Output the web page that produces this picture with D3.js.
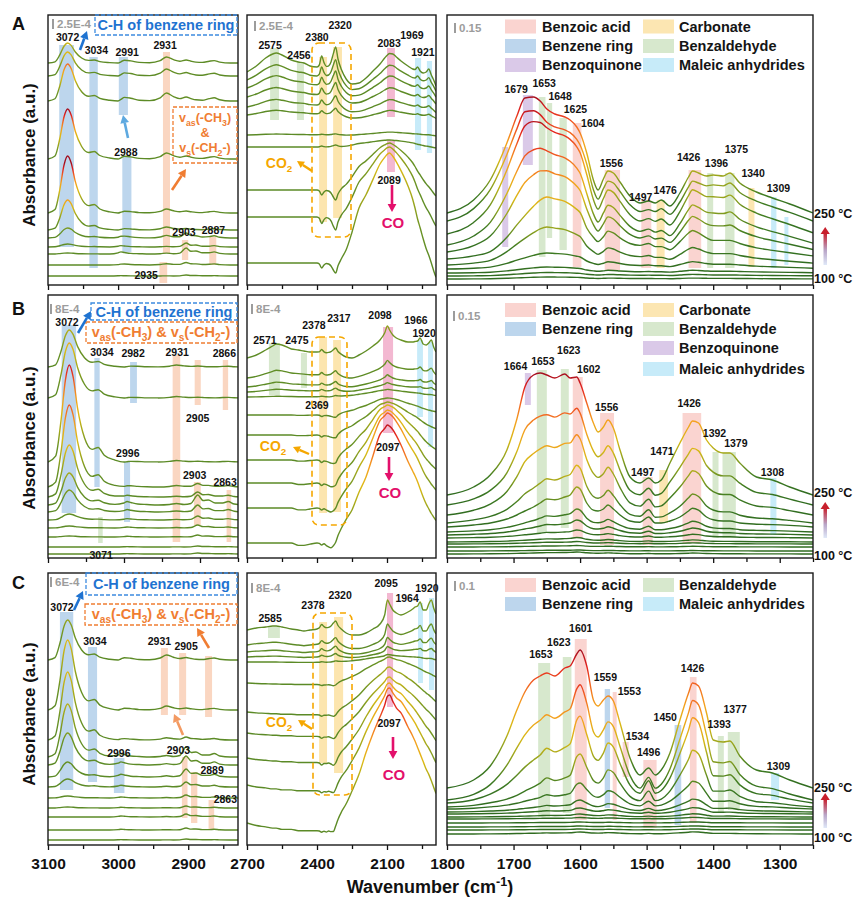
<!DOCTYPE html>
<html>
<head>
<meta charset="utf-8">
<script src="https://cdn.jsdelivr.net/npm/d3@7"></script>
<style>
  body { margin: 0; background: #fff; }
  svg text { font-family: "Liberation Sans", Arial, Helvetica, sans-serif; font-weight: bold; }
</style>
</head>
<body>
<svg id="chart" width="855" height="897"></svg>
<script>
'use strict';

// ---------- data: wavenumber knots (cm-1) for each column ----------
var wnCH = [3100, 3090, 3083, 3077, 3072, 3067, 3061, 3052, 3042, 3034, 3026, 3012, 3000, 2996, 2991, 2982, 2970, 2955, 2940, 2931, 2921, 2912, 2903, 2896, 2889, 2880, 2870, 2863, 2855, 2840, 2829];
var wnGas = [2700, 2660, 2620, 2590, 2575, 2550, 2510, 2480, 2456, 2430, 2400, 2390, 2380, 2370, 2360, 2350, 2340, 2330, 2320, 2310, 2295, 2275, 2250, 2220, 2190, 2160, 2130, 2110, 2098, 2089, 2075, 2060, 2040, 2010, 1990, 1980, 1969, 1958, 1945, 1932, 1921, 1910, 1900, 1890];
var wnFing = [1800, 1760, 1735, 1710, 1695, 1683, 1670, 1660, 1650, 1638, 1623, 1615, 1605, 1600, 1590, 1580, 1573, 1565, 1558, 1550, 1540, 1525, 1510, 1497, 1487, 1478, 1465, 1450, 1437, 1431, 1422, 1410, 1400, 1385, 1375, 1360, 1335, 1311, 1285, 1250];

// tick labels
var ticksCH = [3100, 3000, 2900], minorCH = [3050, 2950, 2850];
var ticksGas = [2700, 2400, 2100], minorGas = [2550, 2250, 1950];
var ticksFing = [1800, 1700, 1600, 1500, 1400, 1300], minorFing = [1750, 1650, 1550, 1450, 1350, 1250];

// ---------- C-H region profiles ----------
var chRing = [0, 0.06, 0.42, 0.85, 1, 0.88, 0.55, 0.25, 0.13, 0.15, 0.07, 0.02, 0, 0, 0, 0, 0, 0, 0, 0, 0, 0, 0, 0, 0, 0, 0, 0, 0, 0, 0];
var chHigh = [0, 0, 0, 0, 0, 0, 0, 0, 0, 0, 0, 0, 0, 0.2, 0.45, 0.35, 0.1, 0.05, 0.4, 1, 0.55, 0.3, 0.5, 0.3, 0.15, 0.1, 0.3, 0.4, 0.15, 0, 0];
var chLow = [0, 0, 0, 0, 0, 0, 0, 0, 0, 0, 0, 0, 0.2, 0.35, 0.25, 0.1, 0.05, 0, 0.05, 0.15, 0.05, 0.15, 1, 0.45, 0.5, 0.2, 0.2, 0.35, 0.1, 0, 0];

// baselines (scale-bar units) and amplitudes [ring, high, low], top spectrum first
var chBaseA = [22.2, 20.9, 18.4, 12.6, 7.2, 5.5, 4.7, 3.8, 3.1, 2.0, 0.9];
var chAmpA = [[2.0, 0.6, 0], [2.4, 0.7, 0], [3.7, 0.8, 0], [5.0, 0.6, 0], [5.7, 0.4, 0], [3.0, 0.3, 0], [1.0, 0.2, 0.4], [0.3, 0, 0.4], [0.1, 0, 0.6], [0, 0.1, 0.2], [0, 0, 0.1]];
var chBaseB = [19.1, 16.0, 9.6, 7.1, 6.1, 5.3, 4.6, 3.8, 3.0, 2.1, 1.1, 0.4];
var chAmpB = [[3.7, 0.2, 0], [5.5, 0.15, 0], [9.7, 0.15, 0], [8.2, 0.1, 0.3], [5.2, 0, 0.5], [3.2, 0, 1.0], [2.2, 0, 0.7], [0.6, 0, 0.4], [0.2, 0, 0.3], [0.1, 0, 0.2], [0, 0, 0.1], [0, 0, 0.1]];
var chBaseC = [18.5, 13.5, 10.5, 8.8, 8.0, 6.8, 5.8, 4.7, 3.7, 2.8, 1.5, 0.5];
var chAmpC = [[4.0, 0.5, 0], [7.0, 0.4, 0], [6.8, 0.2, 0.2], [5.3, 0, 1.0], [3.2, 0, 0.9], [1.5, 0, 0.8], [0.8, 0, 0.5], [0.2, 0, 0.3], [0.1, 0, 0.2], [0, 0, 0.3], [0, 0, 0.2], [0, 0, 0.1]];

// ---------- 2700-1890 region profiles ----------
var gasCO2 = [0, 0, 0, 0, 0, 0, 0, 0, 0, 0, 0, 0.1, 0.5, 0.2, 0.05, 0.1, 0.3, 0.7, 1, 0.5, 0.1, 0, 0, 0, 0, 0, 0, 0, 0, 0, 0, 0, 0, 0, 0, 0, 0, 0, 0, 0, 0, 0, 0, 0];
var gasSurfA = [0, 0.6, 1.4, 1.8, 1.9, 1.7, 1.2, 1.0, 0.9, 0.6, 0.5, 0.5, 0.5, 0.5, 0.45, 0.4, 0.35, 0.3, 0.3, 0.2, 0, -0.7, -1.2, -1.1, -0.6, 0.1, 0.8, 1.4, 1.7, 1.85, 1.8, 1.5, 1.1, 0.6, 0.3, 0.25, 0.5, 0.1, -0.1, 0, 0.3, -0.3, -0.8, -1.4];
var gasCOA = [0, 0, 0, 0, 0, 0, 0, 0, 0, 0, 0, 0, 0, 0, 0, 0, 0, 0, 0, 0.02, 0.05, 0.12, 0.28, 0.5, 0.62, 0.76, 0.9, 0.96, 0.99, 1, 0.97, 0.92, 0.84, 0.7, 0.58, 0.5, 0.4, 0.32, 0.22, 0.13, 0.07, 0, -0.07, -0.13];
var gasSurfB = [0, 0.3, 0.8, 1.2, 1.4, 1.3, 0.9, 0.8, 0.7, 0.6, 0.6, 0.55, 0.55, 0.5, 0.5, 0.5, 0.45, 0.4, 0.4, 0.35, 0.3, 0.1, 0, 0.3, 0.7, 1.2, 1.8, 2.5, 3.2, 2.8, 2.3, 2.0, 1.8, 1.6, 1.6, 1.65, 1.7, 2.0, 1.4, 1.3, 1.5, 1.8, 1.1, 0.6];
var gasCOB = [0, 0, 0, 0, 0, 0, 0, -0.02, -0.02, -0.01, 0, 0, 0, 0, -0.02, -0.03, -0.03, 0, 0.04, 0.08, 0.13, 0.2, 0.28, 0.43, 0.56, 0.74, 0.92, 0.97, 1, 0.99, 0.96, 0.91, 0.83, 0.69, 0.61, 0.57, 0.52, 0.46, 0.39, 0.33, 0.29, 0.25, 0.22, 0.19];
var gasSurfC = [0, 0.2, 0.3, 0.4, 0.4, 0.3, 0.1, 0, -0.1, 0, 0.1, 0.15, 0.2, 0.2, 0.2, 0.2, 0.2, 0.2, 0.2, 0.1, 0, -0.3, -0.5, -0.5, -0.3, 0.1, 0.6, 1.5, 3.0, 2.6, 2.0, 1.7, 1.5, 1.8, 2.1, 2.3, 2.4, 2.8, 2.0, 2.0, 2.6, 3.0, 2.2, 1.6];
var gasCOC = [0, -0.02, -0.03, -0.04, -0.04, -0.05, -0.05, -0.06, -0.06, -0.06, -0.06, -0.06, -0.06, -0.06, -0.07, -0.06, -0.06, -0.05, 0, 0.04, 0.09, 0.15, 0.25, 0.38, 0.55, 0.7, 0.83, 0.92, 0.99, 1, 0.95, 0.9, 0.86, 0.75, 0.68, 0.64, 0.59, 0.54, 0.48, 0.42, 0.38, 0.33, 0.28, 0.23];

// baselines and amplitudes [surface, CO2, CO]
var gasBaseA = [21.3, 20.5, 19.7, 18.8, 17.8, 17.0, 15.0, 13.8, 9.5, 6.8, 2.2];
var gasAmpA = [[1.0, 2.2, 0], [0.8, 1.8, 0], [0.65, 1.5, 0], [0.5, 1.3, 0], [0.4, 1.0, 0], [0.25, 0.6, 0], [0.05, 0.1, 0.2], [0, 0.2, 0.7], [0, -1.0, 4.7], [0, -1.3, 7.0], [0, -1.0, 11.0]];
var gasBaseB = [20.0, 18.0, 17.1, 16.6, 16.1, 14.3, 12.3, 9.8, 7.5, 5.0, 1.5];
var gasAmpB = [[1.0, 0.6, 0], [0.55, 0.5, 0], [0.35, 0.4, 0.1], [0.2, 0.3, 0.3], [0.05, 0.1, 0.6], [0, -0.3, 1.7], [0, -0.4, 3.3], [0, -0.5, 5.5], [0, -0.5, 7.3], [0, -0.4, 9.5], [0, -0.4, 11.8]];
var gasBaseC = [21.5, 20.0, 19.3, 18.8, 18.3, 16.2, 13.3, 11.2, 8.7, 6.0, 2.2];
var gasAmpC = [[1.0, 0.7, 0], [0.7, 0.6, 0], [0.45, 0.5, 0.1], [0.25, 0.3, 0.3], [0.05, 0.1, 0.6], [0, -0.2, 2.6], [0, -0.3, 4.5], [0, -0.4, 5.6], [0, -0.5, 7.5], [0, -0.4, 9.7], [0, -0.3, 12.8]];

// ---------- 1800-1250 region profiles ----------
var fingTopA = [0, 1.3, 3.3, 7.0, 9.7, 11.5, 11.6, 11.2, 10.4, 9.9, 9.6, 9.3, 8.6, 8.0, 6.0, 3.3, 2.3, 3.4, 4.2, 4.0, 3.1, 1.7, 1.0, 1.2, 1.0, 1.3, 0.7, 2.0, 3.6, 4.2, 4.0, 3.7, 3.8, 3.7, 4.0, 3.0, 2.1, 1.5, 0.9, 0];
var fingLowA = [0, 0.05, 0.12, 0.35, 0.55, 0.7, 0.85, 0.95, 1.0, 0.97, 0.93, 0.88, 0.8, 0.75, 0.5, 0.35, 0.28, 0.36, 0.45, 0.42, 0.34, 0.25, 0.22, 0.25, 0.2, 0.2, 0.15, 0.28, 0.42, 0.46, 0.42, 0.34, 0.3, 0.3, 0.3, 0.25, 0.18, 0.14, 0.1, 0.05];
var fingTopB = [0, 0.8, 2.0, 4.5, 7.6, 10.8, 12.0, 12.2, 12.0, 11.7, 12.1, 11.7, 11.8, 11.2, 9.2, 7.2, 6.3, 6.8, 7.5, 6.7, 4.5, 1.8, 1.2, 1.7, 1.2, 1.5, 3.2, 5.2, 6.8, 7.4, 7.2, 5.5, 4.7, 4.2, 4.2, 3.2, 1.8, 1.5, 0.8, 0];
var fingLowB = [0, 0.05, 0.1, 0.2, 0.3, 0.4, 0.5, 0.6, 0.7, 0.68, 0.75, 0.8, 1.0, 0.95, 0.6, 0.42, 0.4, 0.45, 0.55, 0.45, 0.3, 0.15, 0.12, 0.25, 0.1, 0.1, 0.15, 0.25, 0.4, 0.47, 0.42, 0.25, 0.18, 0.15, 0.15, 0.1, 0.07, 0.06, 0.04, 0];
var fingTopC = [0, 0.8, 2.2, 5.2, 7.8, 9.6, 10.8, 11.2, 11.5, 11.2, 12.0, 12.2, 13.4, 13.8, 12.2, 8.8, 8.2, 8.8, 9.2, 8.7, 6.5, 3.0, 1.3, 2.0, 1.3, 1.8, 3.5, 6.8, 9.5, 10.5, 10.2, 7.5, 4.8, 4.6, 4.7, 3.2, 1.8, 1.5, 0.8, 0];
var fingLowC = [0, 0.03, 0.08, 0.15, 0.22, 0.3, 0.38, 0.45, 0.55, 0.5, 0.55, 0.6, 0.95, 1.0, 0.75, 0.5, 0.45, 0.55, 0.7, 0.65, 0.45, 0.2, 0.12, 0.3, 0.12, 0.15, 0.3, 0.6, 0.9, 1.07, 1.0, 0.6, 0.3, 0.3, 0.32, 0.2, 0.1, 0.08, 0.04, 0];

// baselines and amplitudes [top profile, low profile]
var fingBaseA = [7.2, 6.4, 5.1, 4.0, 3.3, 2.6, 2.0, 1.6, 1.2, 0.9, 0.6];
var fingAmpA = [[1, 0], [0.95, 0], [0.8, 2.3], [0.55, 3.7], [0.3, 5.0], [0, 6.2], [0, 3.8], [0, 1.6], [0, 0.6], [0, 0.35], [0, 0.2]];
var fingBaseB = [6.3, 5.3, 4.3, 3.5, 3.1, 2.6, 2.3, 2.0, 1.6, 1.4, 1.1, 0.7, 0.4];
var fingAmpB = [[1, 0], [0.6, 2.6], [0.35, 3.9], [0.1, 4.6], [0, 4.0], [0, 2.3], [0, 1.5], [0, 0.8], [0, 0.45], [0, 0.25], [0, 0.15], [0, 0.1], [0, 0.2]];
var fingBaseC = [5.7, 4.5, 4.2, 3.8, 3.6, 3.3, 3.1, 2.8, 2.6, 2.2, 1.8, 1.5, 1.1];
var fingAmpC = [[1, 0], [0.56, 3.8], [0.18, 6.2], [0, 5.3], [0, 2.6], [0, 1.2], [0, 0.6], [0, 0.3], [0, 0.15], [0, 0.1], [0, 0.1], [0, 0.1], [0, 0.2]];

// ---------- assignment bands [wn from, wn to, low, high, species] ----------
var chBandsA = [[3084, 3063, 3.8, 24.0, 'ring'], [3041, 3029, 1.7, 22.8, 'ring'], [2999, 2986, 17.0, 22.8, 'ring'], [2994, 2981, 3.3, 12.8, 'ring'],
  [2936, 2926, 3.2, 23.3, 'alkyl'], [2909, 2900, 2.5, 4.5, 'alkyl'], [2870, 2860, 2.0, 4.8, 'alkyl'], [2941, 2930, 0.2, 2.3, 'alkyl']];
var gasBandsA = [[2601, 2563, 16.5, 23.7, 'aldehyde'], [2486, 2456, 16.5, 22.3, 'aldehyde'], [2391, 2357, 6.3, 22.8, 'co2'], [2331, 2293, 6.7, 23.8, 'co2'],
  [2100, 2066, 16.8, 23.7, 'co'], [2100, 2066, 11.3, 14.5, 'co'], [1980, 1954, 13.5, 22.7, 'maleic'], [1929, 1907, 13.2, 22.4, 'maleic']];
var fingBandsA = [[1717, 1708, 3.8, 13.8, 'quinone'], [1686, 1671, 12.0, 19.0, 'quinone'], [1662, 1652, 2.8, 18.8, 'aldehyde'], [1650, 1642, 4.7, 18.2, 'aldehyde'],
  [1631, 1620, 3.5, 16.7, 'aldehyde'], [1611, 1598, 1.8, 16.2, 'acid'], [1563, 1540, 1.5, 11.5, 'acid'], [1508, 1493, 1.7, 8.5, 'acid'],
  [1485, 1473, 1.7, 8.5, 'carbonate'], [1437, 1418, 1.7, 11.5, 'acid'], [1409, 1400, 1.7, 11.2, 'aldehyde'], [1382, 1368, 1.7, 11.2, 'aldehyde'],
  [1347, 1338, 1.8, 9.7, 'carbonate'], [1313, 1305, 1.7, 8.8, 'maleic'], [1293, 1287, 2.0, 6.8, 'maleic']];
var chBandsB = [[3082, 3063, 4.5, 23.3, 'ring'], [3039, 3032, 7.1, 20.0, 'ring'], [2992, 2983, 15.5, 19.6, 'ring'], [3000, 2992, 3.6, 9.6, 'ring'],
  [2936, 2926, 1.6, 20.3, 'alkyl'], [2907, 2899, 15.3, 19.8, 'alkyl'], [2870, 2863, 14.8, 19.8, 'alkyl'], [2908, 2899, 3.3, 7.6, 'alkyl'],
  [2865, 2859, 1.6, 6.8, 'alkyl'], [3034, 3028, 1.5, 4.1, 'aldehyde']];
var gasBandsB = [[2606, 2559, 16.3, 21.5, 'aldehyde'], [2469, 2443, 17.0, 20.5, 'aldehyde'], [2391, 2357, 4.5, 22.1, 'co2'], [2331, 2297, 4.6, 21.8, 'co2'],
  [2117, 2074, 12.5, 23.1, 'co'], [1971, 1946, 14.1, 21.8, 'maleic'], [1924, 1903, 11.1, 21.6, 'maleic']];
var fingBandsB = [[1683, 1674, 15.3, 18.5, 'quinone'], [1665, 1650, 2.5, 18.8, 'aldehyde'], [1629, 1617, 3.0, 18.9, 'aldehyde'], [1611, 1596, 2.0, 18.1, 'acid'],
  [1570, 1549, 1.3, 14.5, 'acid'], [1506, 1491, 1.3, 8.1, 'acid'], [1481, 1468, 3.5, 8.8, 'carbonate'], [1446, 1418, 1.5, 14.5, 'acid'],
  [1401, 1392, 2.0, 10.6, 'aldehyde'], [1386, 1366, 2.0, 10.6, 'aldehyde'], [1314, 1305, 2.3, 8.0, 'maleic']];
var chBandsC = [[3083, 3064, 5.5, 23.3, 'ring'], [3043, 3030, 6.3, 19.8, 'ring'], [3006, 2991, 5.2, 8.7, 'ring'], [2939, 2929, 13.0, 19.7, 'alkyl'],
  [2913, 2903, 13.0, 19.2, 'alkyl'], [2876, 2866, 12.8, 18.9, 'alkyl'], [2909, 2901, 2.7, 8.8, 'alkyl'], [2896, 2887, 2.2, 7.3, 'alkyl'], [2871, 2863, 1.6, 4.5, 'alkyl']];
var gasBandsC = [[2610, 2559, 20.7, 21.8, 'aldehyde'], [2391, 2357, 8.2, 22.3, 'co2'], [2327, 2288, 7.2, 22.8, 'co2'], [2100, 2074, 13.8, 25.2, 'co'],
  [1967, 1946, 16.2, 24.2, 'maleic'], [1920, 1898, 15.5, 24.7, 'maleic']];
var fingBandsC = [[1663, 1645, 2.8, 18.2, 'aldehyde'], [1626, 1613, 3.2, 18.8, 'aldehyde'], [1608, 1590, 2.5, 20.6, 'acid'], [1563, 1555, 3.7, 15.6, 'ring'],
  [1551, 1545, 2.5, 15.3, 'acid'], [1536, 1527, 6.8, 10.3, 'acid'], [1505, 1485, 1.7, 8.5, 'acid'], [1458, 1448, 2.0, 12.0, 'ring'],
  [1435, 1425, 2.2, 16.8, 'acid'], [1393, 1384, 3.3, 10.9, 'aldehyde'], [1378, 1360, 3.5, 11.3, 'aldehyde'], [1313, 1301, 4.5, 7.2, 'maleic']];

// ---------- peak labels [text, wn, height] ----------
var chLabelsA = [['3072', 3072, 24.8], ['3034', 3031, 23.5], ['2991', 2987, 23.3], ['2931', 2933, 24.0], ['2988', 2989, 13.3], ['2903', 2906, 5.3], ['2887', 2864, 5.5], ['2935', 2960, 1.0]];
var gasLabelsA = [['2575', 2601, 24.0], ['2456', 2477, 23.0], ['2380', 2400, 24.8], ['2320', 2301, 26.0], ['2083', 2091, 24.2], ['1969', 1993, 25.0], ['1921', 1946, 23.3], ['2089', 2091, 10.5]];
var fingLabelsA = [['1679', 1696, 19.6], ['1653', 1654, 20.2], ['1648', 1630, 18.9], ['1625', 1607, 17.6], ['1604', 1581, 16.2], ['1556', 1553, 12.2], ['1497', 1509, 8.8],
  ['1476', 1472, 9.5], ['1426', 1437, 12.8], ['1396', 1395, 12.2], ['1375', 1365, 13.6], ['1340', 1340, 11.2], ['1309', 1302, 9.7]];
var chLabelsB = [['3072', 3075, 23.6], ['3034', 3029, 20.6], ['2982', 2988, 20.5], ['2931', 2930, 20.6], ['2866', 2868, 20.5], ['2905', 2903, 14.0], ['2996', 2995, 10.5],
  ['2903', 2907, 8.3], ['2863', 2867, 7.6], ['3071', 3030, 0.3]];
var gasLabelsB = [['2571', 2623, 21.8], ['2475', 2486, 21.8], ['2378', 2413, 23.3], ['2317', 2306, 24.0], ['2098', 2130, 24.3], ['1966', 1976, 23.8], ['1920', 1941, 22.5],
  ['2369', 2400, 15.3], ['2097', 2096, 11.1]];
var fingLabelsB = [['1664', 1697, 19.2], ['1653', 1656, 19.7], ['1623', 1617, 20.8], ['1602', 1587, 18.9], ['1556', 1560, 15.1], ['1497', 1506, 8.6], ['1471', 1477, 10.7],
  ['1426', 1436, 15.5], ['1392', 1398, 12.5], ['1379', 1366, 11.5], ['1308', 1311, 8.6]];
var chLabelsC = [['3072', 3080, 23.8], ['3034', 3033, 20.4], ['2931', 2941, 20.4], ['2905', 2903, 19.9], ['2996', 2999, 9.2], ['2903', 2914, 9.5], ['2889', 2866, 7.5], ['2863', 2847, 4.6]];
var gasLabelsC = [['2585', 2601, 22.7], ['2378', 2417, 24.0], ['2320', 2301, 25.0], ['2095', 2104, 26.2], ['1964', 2014, 24.7], ['1920', 1929, 25.7], ['2097', 2091, 12.2]];
var fingLabelsC = [['1653', 1659, 19.1], ['1623', 1632, 20.3], ['1601', 1599, 21.7], ['1559', 1562, 16.8], ['1553', 1526, 15.4], ['1534', 1514, 10.9], ['1496', 1497, 9.3],
  ['1450', 1472, 12.8], ['1426', 1431, 17.7], ['1393', 1391, 12.1], ['1377', 1367, 13.6], ['1309', 1302, 7.9]];

// legend entries for the right column
var legendA = [[['Benzoic acid', 'acid'], ['Benzene ring', 'ring'], ['Benzoquinone', 'quinone']], [['Carbonate', 'carbonate'], ['Benzaldehyde', 'aldehyde'], ['Maleic anhydrides', 'maleic']]];
var legendB = [[['Benzoic acid', 'acid'], ['Benzene ring', 'ring']], [['Carbonate', 'carbonate'], ['Benzaldehyde', 'aldehyde'], ['Benzoquinone', 'quinone'], ['Maleic anhydrides', 'maleic']]];
var legendC = [[['Benzoic acid', 'acid'], ['Benzene ring', 'ring']], [['Benzaldehyde', 'aldehyde'], ['Maleic anhydrides', 'maleic']]];

// ---------- layout & style ----------
var rowBox = [{top: 15, bottom: 285}, {top: 295, bottom: 558}, {top: 573, bottom: 845}];
var colBox = [{left: 48, right: 238}, {left: 247, right: 436}, {left: 447, right: 813}];
var unitPx = 10;   // one scale-bar unit
var font = '"Liberation Sans", Arial, Helvetica, sans-serif';

var bandFill = {
  acid: '#f9cdc8', ring: '#b2cfea', quinone: '#d3c0e4', carbonate: '#fce2a5',
  aldehyde: '#d0e4c4', maleic: '#bde8f8', alkyl: '#f9cfb6', co: '#f1abc9', co2: '#fbe0a0'
};
var heatStops = [0, 0.15, 0.3, 0.45, 0.6, 0.75, 0.88, 1];
var heatLight = ['#5b8a26', '#6a9324', '#a3a81b', '#dcba15', '#f4a21f', '#f26522', '#e3211d', '#a30f20'];
var heatDark = ['#2f6b20', '#3f7c22', '#8fa21e', '#d8b816', '#f4a21f', '#f26522', '#e3211d', '#a30f20'];

var panels = [
  {row: 0, col: 0, dom: [3100, 2829], wn: wnCH, prof: [chRing, chHigh, chLow], base: chBaseA, amp: chAmpA, bands: chBandsA, labels: chLabelsA, span: 5, bar: '2.5E-4', barAt: [53, 19]},
  {row: 0, col: 1, dom: [2700, 1890], wn: wnGas, prof: [gasSurfA, gasCO2, gasCOA], base: gasBaseA, amp: gasAmpA, bands: gasBandsA, labels: gasLabelsA, span: 22, bar: '2.5E-4', barAt: [255, 21]},
  {row: 0, col: 2, dom: [1800, 1250], wn: wnFing, prof: [fingTopA, fingLowA], base: fingBaseA, amp: fingAmpA, bands: fingBandsA, labels: fingLabelsA, span: 11.7, bar: '0.15', barAt: [455, 23], legend: legendA, legendY: [26.5, 46, 65]},
  {row: 1, col: 0, dom: [3100, 2850], wn: wnCH, prof: [chRing, chHigh, chLow], base: chBaseB, amp: chAmpB, bands: chBandsB, labels: chLabelsB, span: 10.5, bar: '8E-4', barAt: [51, 304]},
  {row: 1, col: 1, dom: [2700, 1890], wn: wnGas, prof: [gasSurfB, gasCO2, gasCOB], base: gasBaseB, amp: gasAmpB, bands: gasBandsB, labels: gasLabelsB, span: 12.5, bar: '8E-4', barAt: [252, 304]},
  {row: 1, col: 2, dom: [1800, 1250], wn: wnFing, prof: [fingTopB, fingLowB], base: fingBaseB, amp: fingAmpB, bands: fingBandsB, labels: fingLabelsB, span: 12.2, bar: '0.15', barAt: [454, 311], legend: legendB, legendY: [310, 329, 348, 369]},
  {row: 2, col: 0, dom: [3100, 2829], wn: wnCH, prof: [chRing, chHigh, chLow], base: chBaseC, amp: chAmpC, bands: chBandsC, labels: chLabelsC, span: 15, bar: '6E-4', barAt: [51, 577]},
  {row: 2, col: 1, dom: [2700, 1890], wn: wnGas, prof: [gasSurfC, gasCO2, gasCOC], base: gasBaseC, amp: gasAmpC, bands: gasBandsC, labels: gasLabelsC, span: 13.5, bar: '8E-4', barAt: [252, 583]},
  {row: 2, col: 2, dom: [1800, 1250], wn: wnFing, prof: [fingTopC, fingLowC], base: fingBaseC, amp: fingAmpC, bands: fingBandsC, labels: fingLabelsC, span: 13.8, bar: '0.1', barAt: [455, 581], legend: legendC, legendY: [585, 604]}
];
var majorTicks = [ticksCH, ticksGas, ticksFing], minorTicks = [minorCH, minorGas, minorFing];

var svg = d3.select('#chart');
var defs = svg.append('defs');

// small helpers
function arrow(g, x1, y1, x2, y2, color, w, head) {
  var a = Math.atan2(y2 - y1, x2 - x1), h = head || 7;
  var bx = x2 - h * Math.cos(a), by = y2 - h * Math.sin(a);
  var px = Math.sin(a) * h * 0.55, py = -Math.cos(a) * h * 0.55;
  g.append('line').attr('x1', x1).attr('y1', y1).attr('x2', bx).attr('y2', by)
    .attr('stroke', color).attr('stroke-width', w);
  g.append('path').attr('fill', color)
    .attr('d', 'M' + x2 + ',' + y2 + 'L' + (bx + px) + ',' + (by + py) + 'L' + (bx - px) + ',' + (by - py) + 'Z');
}
// parts: [text, 'sub' | 'sup' | undefined]
function rich(g, x, y, parts, size, color, anchor) {
  var t = g.append('text').attr('x', x).attr('y', y).attr('font-size', size)
    .attr('fill', color).attr('text-anchor', anchor || 'middle');
  var shift = 0;
  parts.forEach(function(p) {
    var target = p[1] === 'sub' ? size * 0.3 : p[1] === 'sup' ? -size * 0.4 : 0;
    var ts = t.append('tspan').text(p[0]).attr('dy', target - shift);
    if (p[1]) ts.attr('font-size', size * 0.7);
    shift = target;
  });
  return t;
}

panels.forEach(function(p, pi) {
  var r = rowBox[p.row], c = colBox[p.col];
  var x = d3.scaleLinear().domain(p.dom).range([c.left, c.right]);
  var y = d3.scaleLinear().domain([0, (r.bottom - r.top) / unitPx]).range([r.bottom, r.top]);
  var g = svg.append('g').attr('class', 'panel');

  defs.append('clipPath').attr('id', 'clip' + pi).append('rect')
    .attr('x', c.left).attr('y', r.top).attr('width', c.right - c.left).attr('height', r.bottom - r.top);
  var plot = g.append('g').attr('clip-path', 'url(#clip' + pi + ')');

  // assignment bands
  plot.selectAll('rect.band').data(p.bands).enter().append('rect')
    .attr('class', 'band')
    .attr('x', function(d) { return x(d[0]); })
    .attr('width', function(d) { return x(d[1]) - x(d[0]); })
    .attr('y', function(d) { return y(d[3]); })
    .attr('height', function(d) { return y(d[2]) - y(d[3]); })
    .attr('fill', function(d) { return bandFill[d[4]]; })
    .attr('opacity', 0.85);

  // spectra: baseline + amplitude-weighted profiles
  var series = p.base.map(function(b, i) {
    return p.wn.map(function(w, k) {
      var v = b;
      p.amp[i].forEach(function(a, j) { v += a * p.prof[j][k]; });
      return [w, v];
    });
  });
  var heat = p.col === 2 ? heatDark : heatLight;
  var line = d3.line()
    .x(function(d) { return x(d[0]); })
    .y(function(d) { return y(d[1]); })
    .curve(d3.curveMonotoneX);

  series.forEach(function(s, i) {
    var grad = defs.append('linearGradient').attr('id', 'heat' + pi + '_' + i).attr('gradientUnits', 'userSpaceOnUse')
      .attr('x1', 0).attr('x2', 0).attr('y1', y(p.base[i])).attr('y2', y(p.base[i] + p.span));
    heatStops.forEach(function(o, k) {
      grad.append('stop').attr('offset', o).attr('stop-color', heat[k]);
    });
  });
  plot.selectAll('path.spec').data(series.slice().reverse()).enter().append('path')
    .attr('class', 'spec')
    .attr('d', line)
    .attr('fill', 'none')
    .attr('stroke', function(d, i) { return 'url(#heat' + pi + '_' + (series.length - 1 - i) + ')'; })
    .attr('stroke-width', 1.4)
    .attr('stroke-linejoin', 'round');

  // peak labels
  g.selectAll('text.peak').data(p.labels).enter().append('text')
    .attr('class', 'peak')
    .attr('x', function(d) { return x(d[1]); })
    .attr('y', function(d) { return y(d[2]); })
    .attr('dy', '0.36em')
    .attr('text-anchor', 'middle')
    .attr('font-size', 10.5)
    .attr('fill', '#111')
    .text(function(d) { return d[0]; });

  // scale bar (one unit)
  g.append('line').attr('x1', p.barAt[0]).attr('x2', p.barAt[0])
    .attr('y1', p.barAt[1]).attr('y2', p.barAt[1] + unitPx)
    .attr('stroke', '#9c9c9c').attr('stroke-width', 2);
  g.append('text').attr('x', p.barAt[0] + 4).attr('y', p.barAt[1] + unitPx / 2).attr('dy', '0.36em')
    .attr('font-size', 11.5).attr('fill', '#9c9c9c').text(p.bar);

  // axes
  var minor = d3.axisBottom(x).tickValues(minorTicks[p.col]).tickSize(4).tickFormat('');
  var major = d3.axisBottom(x).tickValues(majorTicks[p.col]).tickSize(5).tickPadding(8).tickFormat(d3.format('d'));
  if (p.row < 2) major.tickFormat('');
  [minor, major].forEach(function(ax) {
    var ag = g.append('g').attr('transform', 'translate(0,' + r.bottom + ')').call(ax);
    ag.select('.domain').remove();
    ag.selectAll('line').attr('stroke', '#111').attr('stroke-width', 1.3);
    ag.selectAll('text').attr('font-size', 15.5).attr('fill', '#111').style('font-family', font);
  });

  // frame
  g.append('rect').attr('x', c.left).attr('y', r.top)
    .attr('width', c.right - c.left).attr('height', r.bottom - r.top)
    .attr('fill', 'none').attr('stroke', '#1a1a1a').attr('stroke-width', 1.4);

  // legend
  if (p.legend) {
    var lx = [[505, 542], [643, 679]];
    p.legend.forEach(function(colItems, ci) {
      colItems.forEach(function(item, ri) {
        var cy = p.legendY[ri];
        g.append('rect').attr('x', lx[ci][0]).attr('y', cy - 7).attr('width', 31).attr('height', 14)
          .attr('fill', bandFill[item[1]]).attr('opacity', 0.85);
        g.append('text').attr('x', lx[ci][1]).attr('y', cy).attr('dy', '0.36em')
          .attr('font-size', 14.5).attr('fill', '#151515').text(item[0]);
      });
    });
  }
});

// ---------- temperature markers ----------
var tempMarks = [{hi: 213, lo: 278, a: 227, b: 265}, {hi: 492, lo: 555, a: 502, b: 538}, {hi: 787, lo: 837, a: 793, b: 828}];
var tg = defs.append('linearGradient').attr('id', 'tempGrad').attr('x1', 0).attr('x2', 0).attr('y1', 0).attr('y2', 1);
tg.append('stop').attr('offset', 0).attr('stop-color', '#c81f2c');
tg.append('stop').attr('offset', 0.55).attr('stop-color', '#b9a6c8');
tg.append('stop').attr('offset', 1).attr('stop-color', '#dfe8f8');
tempMarks.forEach(function(t) {
  svg.append('text').attr('x', 814).attr('y', t.hi).attr('dy', '0.36em').attr('font-size', 12.5).attr('fill', '#111').text('250 °C');
  svg.append('text').attr('x', 814).attr('y', t.lo).attr('dy', '0.36em').attr('font-size', 12.5).attr('fill', '#111').text('100 °C');
  svg.append('rect').attr('x', 823.5).attr('y', t.a + 6).attr('width', 3.5).attr('height', t.b - t.a - 6).attr('fill', 'url(#tempGrad)');
  svg.append('path').attr('d', 'M825.2,' + t.a + 'L829.8,' + (t.a + 7) + 'L820.6,' + (t.a + 7) + 'Z').attr('fill', '#c81f2c');
});

// ---------- annotations ----------
var ann = svg.append('g');
var blue = '#1f73d1', orange = '#f07d32', amber = '#f5a700', magenta = '#e3106b';

// C-H region boxes
[[95, 15, 142, 20], [91, 303, 146, 17], [86, 573, 151, 22]].forEach(function(b) {
  ann.append('rect').attr('x', b[0]).attr('y', b[1]).attr('width', b[2]).attr('height', b[3])
    .attr('fill', 'none').attr('stroke', '#3c8be0').attr('stroke-width', 1.3).attr('stroke-dasharray', '4,2');
  ann.append('text').attr('x', b[0] + b[2] / 2).attr('y', b[1] + b[3] / 2).attr('dy', '0.36em')
    .attr('text-anchor', 'middle').attr('font-size', 14.5).attr('fill', blue).text('C-H of benzene ring');
});
[[173, 107, 64, 56], [86, 322, 151, 21], [85, 604, 152, 21]].forEach(function(b) {
  ann.append('rect').attr('x', b[0]).attr('y', b[1]).attr('width', b[2]).attr('height', b[3])
    .attr('fill', 'none').attr('stroke', orange).attr('stroke-width', 1.3).attr('stroke-dasharray', '4,2');
});
rich(ann, 205, 122, [['v'], ['as', 'sub'], ['(-CH'], ['3', 'sub'], [')']], 12.5, orange);
rich(ann, 205, 137, [['&']], 12.5, orange);
rich(ann, 205, 152, [['v'], ['s', 'sub'], ['(-CH'], ['2', 'sub'], ['-)']], 12.5, orange);
[[161, 337], [161, 619]].forEach(function(c) {
  rich(ann, c[0], c[1], [['v'], ['as', 'sub'], ['(-CH'], ['3', 'sub'], [') & v'], ['s', 'sub'], ['(-CH'], ['2', 'sub'], ['-)']], 14.5, orange);
});
arrow(ann, 80, 50, 87, 31, blue, 2.6, 8);
arrow(ann, 78, 333, 91, 311, blue, 2.6, 8);
arrow(ann, 74, 610, 83, 591, blue, 2.6, 8);
arrow(ann, 128, 138, 123, 115, '#5ea9e0', 2.6, 8);
arrow(ann, 172, 190, 186, 169, orange, 2.6, 8);
arrow(ann, 183, 735, 174, 714, '#f39a62', 2.6, 8);
arrow(ann, 209, 648, 197, 628, orange, 2.6, 8);

// CO2 / CO call-outs
[[312, 43, 39, 194], [312, 337, 35, 188], [313, 613, 39, 182]].forEach(function(b) {
  ann.append('rect').attr('x', b[0]).attr('y', b[1]).attr('width', b[2]).attr('height', b[3]).attr('rx', 7)
    .attr('fill', 'none').attr('stroke', amber).attr('stroke-width', 1.6).attr('stroke-dasharray', '6,4');
});
[[279, 168, 312, 171, 297, 161], [273, 451, 309, 454, 293, 447], [279, 727, 312, 729, 298, 720]].forEach(function(c) {
  rich(ann, c[0], c[1], [['CO'], ['2', 'sub']], 14, amber);
  arrow(ann, c[2], c[3], c[4], c[5], amber, 2.4, 7);
});
[[393, 228, 185, 212], [390, 498, 457, 481], [394, 780, 737, 759]].forEach(function(c) {
  ann.append('text').attr('x', c[0]).attr('y', c[1]).attr('text-anchor', 'middle')
    .attr('font-size', 15).attr('fill', magenta).text('CO');
  arrow(ann, c[0] - 1, c[2], c[0] - 1, c[3], magenta, 2.6, 8);
});

// ---------- row letters and axis titles ----------
[['A', 30], ['B', 315], ['C', 589]].forEach(function(l) {
  svg.append('text').attr('x', 12).attr('y', l[1]).attr('font-size', 18).attr('fill', '#111').text(l[0]);
});
[155, 438, 714].forEach(function(cy) {
  svg.append('text').attr('transform', 'translate(29,' + cy + ') rotate(-90)')
    .attr('text-anchor', 'middle').attr('dy', '0.36em').attr('font-size', 17).attr('fill', '#111')
    .text('Absorbance (a.u.)');
});
rich(svg, 430, 893, [['Wavenumber (cm'], ['-1', 'sup'], [')']], 18, '#111');
</script>
</body>
</html>
